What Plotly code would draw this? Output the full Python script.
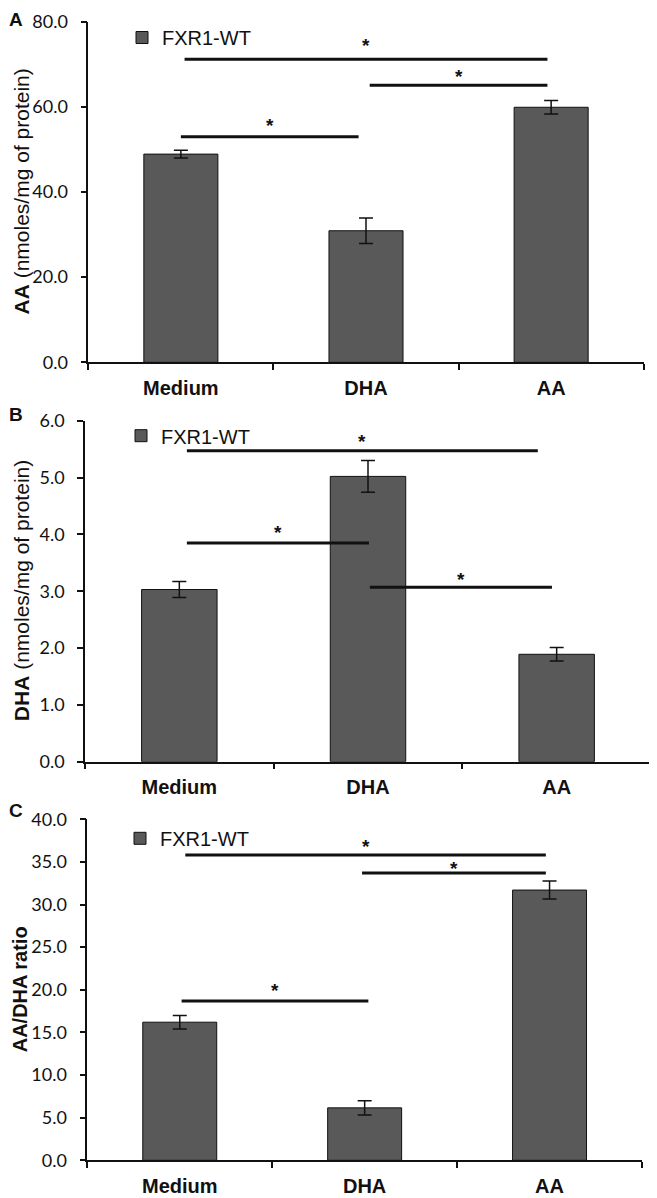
import plotly.graph_objects as go

# page is 657x1198; the html body adds an 8px margin, so the figure is drawn 8px in
PAGE_W, PAGE_H, OFF = 657, 1198, 8
W, H = PAGE_W - OFF, PAGE_H - OFF

categories = ["Medium", "DHA", "AA"]
series_name = "FXR1-WT"

aa_mean = [48.9, 30.9, 59.9]
aa_sem = [0.9, 3.0, 1.6]
dha_mean = [3.03, 5.02, 1.89]
dha_sem = [0.14, 0.28, 0.12]
ratio_mean = [16.2, 6.15, 31.7]
ratio_sem = [0.8, 0.85, 1.05]

# significance bars: start index, end index, bar height, star height
sig_a_start = [0.02, 1.02, 0.0]
sig_a_end = [1.98, 1.98, 0.96]
sig_a_y = [71.2, 65.1, 53.0]
sig_a_star = [75.3, 68.0, 56.5]

sig_b_start = [0.04, 0.04, 1.01]
sig_b_end = [1.90, 1.005, 1.975]
sig_b_y = [5.47, 3.85, 3.07]
sig_b_star = [5.71, 4.10, 3.28]

sig_c_start = [0.03, 0.986, 0.01]
sig_c_end = [1.98, 1.98, 1.02]
sig_c_y = [35.8, 33.7, 18.7]
sig_c_star = [37.25, 34.7, 20.4]

y_titles = ["<b>AA</b> (nmoles/mg of protein)",
            "<b>DHA</b> (nmoles/mg of protein)",
            "<b>AA/DHA ratio</b>"]
panel_letters = ["A", "B", "C"]
y_max = [80, 6, 40]
y_dtick = [20, 1, 5]


def px(x):
    return (x - OFF) / W


def py(y):
    return 1 - (y - OFF) / H


panels = [
    dict(mean=aa_mean, err=aa_sem, s0=sig_a_start, s1=sig_a_end, sy=sig_a_y, ss=sig_a_star,
         xdom=(88.3, 643.7), ydom=(21.7, 362.3), leg=(122, 37.5), tx=20.5, tsize=21, letter=(8, 8.5)),
    dict(mean=dha_mean, err=dha_sem, s0=sig_b_start, s1=sig_b_end, sy=sig_b_y, ss=sig_b_star,
         xdom=(85.0, 651.0), ydom=(420.7, 761.7), leg=(121, 435.7), tx=21.0, tsize=21, letter=(8, 403)),
    dict(mean=ratio_mean, err=ratio_sem, s0=sig_c_start, s1=sig_c_end, sy=sig_c_y, ss=sig_c_star,
         xdom=(87.3, 642.0), ydom=(819.3, 1160.3), leg=(120, 838.3), tx=19.5, tsize=20, letter=(8, 799)),
]

fig = go.Figure()
shapes = []
annotations = []
layout = dict(
    width=W, height=H,
    margin=dict(l=0, r=0, t=0, b=0, autoexpand=False),
    paper_bgcolor="white", plot_bgcolor="white",
    bargap=0.6,
    showlegend=True,
)

for i, p in enumerate(panels):
    n = "" if i == 0 else str(i + 1)
    xa, ya = "x" + n, "y" + n
    leg = "legend" + n
    fig.add_trace(go.Bar(
        x=categories, y=p["mean"], name=series_name,
        xaxis=xa, yaxis=ya, legend=leg,
        marker=dict(color="#595959", line=dict(color="#111111", width=1)),
        error_y=dict(type="data", array=p["err"], visible=True,
                     color="#111111", thickness=1.5, width=7),
        hoverinfo="skip",
    ))
    layout["xaxis" + n] = dict(
        domain=[px(p["xdom"][0]), px(p["xdom"][1])], anchor=ya,
        type="category", range=[-0.5, 2.5], automargin=False,
        showline=True, linecolor="#111111", linewidth=1.5,
        ticks="outside", tickson="boundaries", ticklen=6, tickwidth=1.5, tickcolor="#111111",
        showgrid=False, zeroline=False,
        tickfont=dict(family="Liberation Sans, Arial, sans-serif", size=20, color="#111111", weight="bold"),
        ticklabelstandoff=7,
    )
    layout["yaxis" + n] = dict(
        domain=[py(p["ydom"][1]), py(p["ydom"][0])], anchor=xa,
        range=[0, y_max[i]], dtick=y_dtick[i], tick0=0, tickformat=".1f", automargin=False,
        showline=True, linecolor="#111111", linewidth=1.5,
        ticks="outside", ticklen=6, tickwidth=1.5, tickcolor="#111111",
        showgrid=False, zeroline=False,
        tickfont=dict(family="Lato, Carlito, sans-serif", size=18, color="#111111"),
        ticklabelstandoff=9,
    )
    layout[leg] = dict(
        x=px(p["leg"][0]), y=py(p["leg"][1]), xanchor="left", yanchor="middle",
        bgcolor="rgba(0,0,0,0)", borderwidth=0,
        font=dict(family="Liberation Sans, Arial, sans-serif", size=20, color="#111111"),
    )
    for a, b, yv, ys in zip(p["s0"], p["s1"], p["sy"], p["ss"]):
        shapes.append(dict(type="line", xref=xa, yref=ya, x0=a, x1=b, y0=yv, y1=yv,
                           line=dict(color="#111111", width=3)))
        annotations.append(dict(xref=xa, yref=ya, x=(a + b) / 2, y=ys, text="<b>*</b>",
                                showarrow=False, xanchor="center", yanchor="middle", yshift=-4,
                                font=dict(family="Liberation Sans, Arial, sans-serif", size=19,
                                          color="#111111")))
    annotations.append(dict(xref="paper", yref="paper", x=px(p["tx"]),
                            y=py((p["ydom"][0] + p["ydom"][1]) / 2),
                            text=y_titles[i], textangle=-90, showarrow=False,
                            xanchor="center", yanchor="middle", borderpad=0,
                            font=dict(family="Liberation Sans, Arial, sans-serif", size=p["tsize"],
                                      color="#111111")))
    annotations.append(dict(xref="paper", yref="paper", x=px(p["letter"][0]), y=py(p["letter"][1]),
                            text="<b>" + panel_letters[i] + "</b>", showarrow=False,
                            xanchor="left", yanchor="top", borderpad=0,
                            font=dict(family="Liberation Sans, Arial, sans-serif", size=19,
                                      color="#111111")))

layout["shapes"] = shapes
layout["annotations"] = annotations
fig.update_layout(**layout)
fig.write_html("out.html")
